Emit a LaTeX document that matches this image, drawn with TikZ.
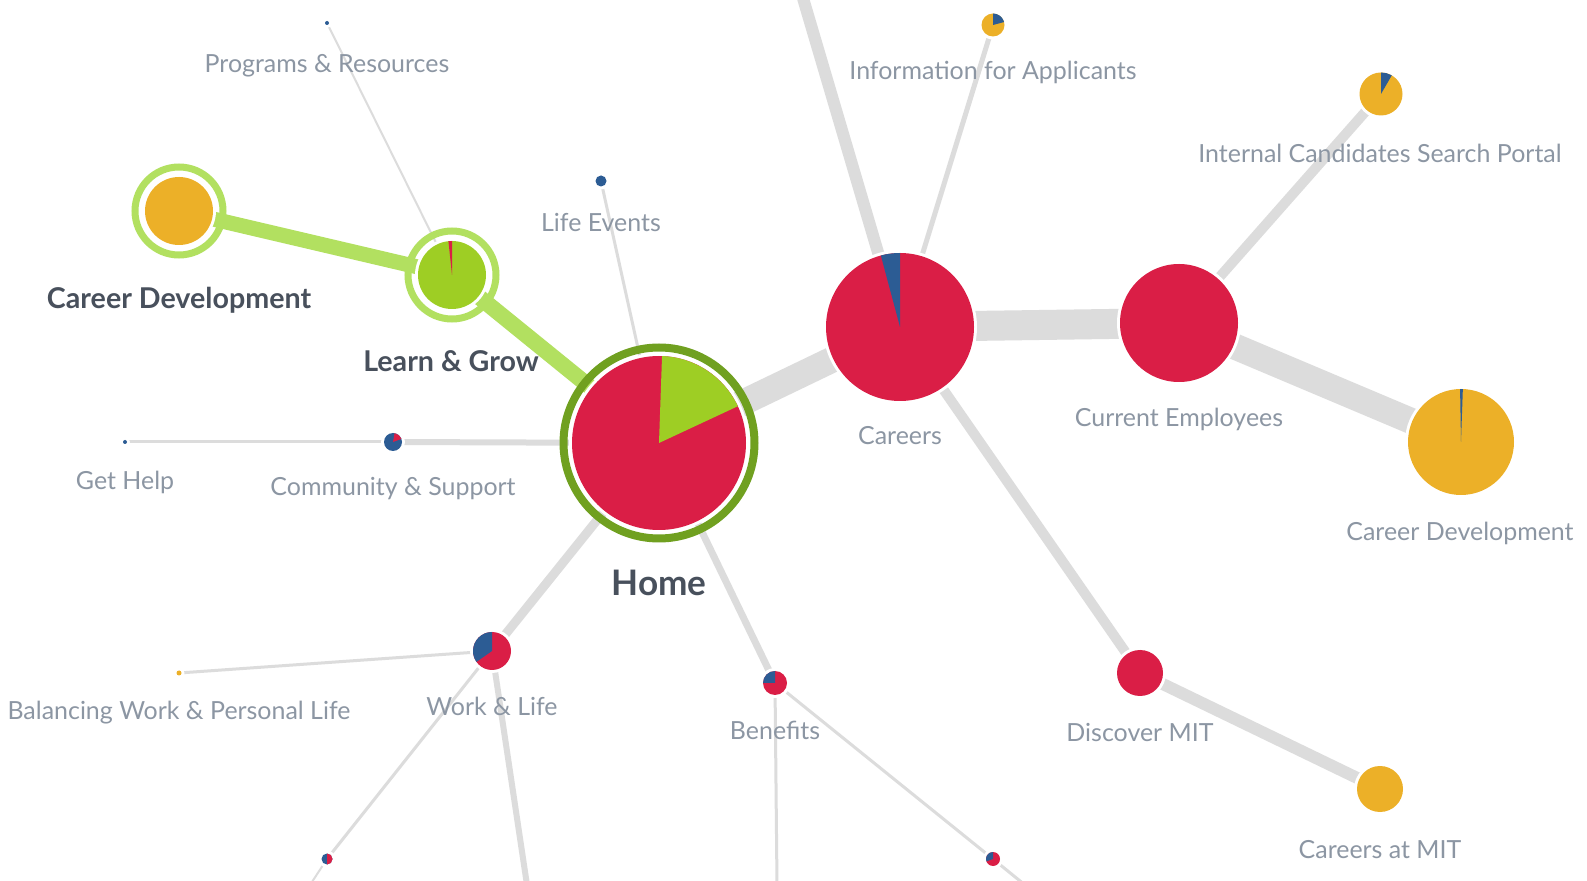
\documentclass[tikz,border=0pt]{standalone}
\usepackage{fontspec}
\setmainfont{Lato}
\usetikzlibrary{backgrounds}
\definecolor{pinkred}{RGB}{218,30,70}
\definecolor{gold}{RGB}{236,176,40}
\definecolor{navy}{RGB}{44,92,148}
\definecolor{leaf}{RGB}{158,206,36}
\definecolor{ringlight}{RGB}{178,224,96}
\definecolor{ringdark}{RGB}{112,160,32}
\definecolor{linkgray}{RGB}{220,220,220}
\definecolor{labelgray}{RGB}{140,150,163}
\definecolor{labeldark}{RGB}{72,80,92}

\tikzset{
 piebase/.style={circle, inner sep=0pt},
 link/.style={linkgray, line width=#1*0.02cm},
 greenlink/.style={ringlight, line width=#1*0.02cm},
 lbl/.style={labelgray, font=\fontsize{14.2}{16}\selectfont, anchor=base},
 biglbl/.style={labeldark, font=\fontsize{16.3}{18}\selectfont\bfseries, anchor=base},
}

% name, position, radius, base colour, slice colour, slice from, slice to
\newcommand{\pienode}[7]{%
  \node[piebase, minimum size=#3*0.04cm] (#1) at (#2) {};
  \fill[white] (#1.center) circle[radius=#3+3];
  \fill[#4] (#1.center) circle[radius=#3];
  \fill[#5] (#1.center) -- ++(#6:#3) arc[start angle=#6, end angle=#7, radius=#3] -- cycle;
}

\begin{document}
\begin{tikzpicture}[x=0.02cm, y=0.02cm]
\useasboundingbox (0,0) rectangle (1587,880);

% pies
\pienode{home}{659,437}{87}{pinkred}{leaf}{25}{88}
\draw[ringdark, line width=0.16cm] (home.center) circle[radius=95.5];
\pienode{careers}{900,553}{74}{pinkred}{navy}{90}{105}
\pienode{current}{1179,557}{59}{pinkred}{pinkred}{90}{90}
\pienode{cdright}{1461,438}{53}{gold}{navy}{88}{91}
\pienode{internal}{1381,786}{21.5}{gold}{navy}{60}{90}
\pienode{info}{993,855}{11.5}{gold}{navy}{15}{90}
\pienode{discover}{1140,207}{23}{pinkred}{pinkred}{90}{90}
\pienode{careersmit}{1380,91}{23}{gold}{gold}{90}{90}
\pienode{learn}{452,605}{34}{leaf}{pinkred}{90}{96}
\draw[ringlight, line width=0.14cm] (learn.center) circle[radius=44];
\pienode{cdleft}{179,669}{34}{gold}{gold}{90}{90}
\draw[ringlight, line width=0.14cm] (cdleft.center) circle[radius=44];
\pienode{community}{393,438}{9}{navy}{pinkred}{20}{80}
\pienode{gethelp}{125,438}{2}{navy}{navy}{90}{90}
\pienode{programs}{327,857}{2}{navy}{navy}{90}{90}
\pienode{lifeevents}{601,699}{5.5}{navy}{navy}{90}{90}
\pienode{worklife}{492,229}{19}{pinkred}{navy}{90}{215}
\pienode{balancing}{179,207}{2.5}{gold}{gold}{90}{90}
\pienode{benefits}{775,197}{12}{pinkred}{navy}{90}{180}
\pienode{bldot}{327,21}{5.5}{navy}{pinkred}{-90}{90}
\pienode{brdot}{993,21}{7}{pinkred}{navy}{90}{200}

\coordinate (careerstop) at (800,892);
\coordinate (worklifedown) at (527,-5);
\coordinate (benefitsdown) at (777,-5);
\coordinate (brdotoff) at (1025,-5);
\coordinate (bldotoff) at (310,-5);

% links behind the pies
\begin{scope}[on background layer]
\fill[white] (0,0) rectangle (1587,880);
\draw[link=12] (careers) -- (careerstop);
\draw[link=5] (careers) -- (info);
\draw[link=26] (home) -- (careers);
\draw[link=30] (careers) -- (current);
\draw[link=10] (current) -- (internal);
\draw[link=26] (current) -- (cdright);
\draw[link=10] (careers) -- (discover);
\draw[link=12] (discover) -- (careersmit);
\draw[greenlink=16] (home) -- (learn);
\draw[greenlink=15] (learn) -- (cdleft);
\draw[link=2] (learn) -- (programs);
\draw[link=3] (home) -- (lifeevents);
\draw[link=6] (home) -- (community);
\draw[link=3] (community) -- (gethelp);
\draw[link=9] (home) -- (worklife);
\draw[link=3] (worklife) -- (balancing);
\draw[link=3] (worklife) -- (bldot);
\draw[link=2] (bldot) -- (bldotoff);
\draw[link=6] (worklife) -- (worklifedown);
\draw[link=7] (home) -- (benefits);
\draw[link=3] (benefits) -- (benefitsdown);
\draw[link=3] (benefits) -- (brdot);
\draw[link=3] (brdot) -- (brdotoff);
\end{scope}

% labels
\node[lbl] (programslbl) at (327,807) {Programs \& Resources};
\node[lbl] (infolbl) at (993,800) {Information for Applicants};
\node[lbl] (internallbl) at (1380,717) {Internal Candidates Search Portal};
\node[lbl] (lifeeventslbl) at (601,648) {Life Events};
\node[biglbl] (cdleftlbl) at (179,571) {Career Development};
\node[biglbl] (learnlbl) at (451,508) {Learn \& Grow};
\node[lbl] (careerslbl) at (900,435) {Careers};
\node[lbl] (currentlbl) at (1179,453) {Current Employees};
\node[lbl] (cdrightlbl) at (1460,339) {Career Development};
\node[lbl] (gethelplbl) at (125,390) {Get Help};
\node[lbl] (communitylbl) at (393,384) {Community \& Support};
\node[biglbl, font=\fontsize{20}{22}\selectfont\bfseries] (homelbl) at (659,284) {Home};
\node[lbl] (balancinglbl) at (179,160) {Balancing Work \& Personal Life};
\node[lbl] (worklifelbl) at (492,165) {Work \& Life};
\node[lbl] (benefitslbl) at (775,140) {Benefits};
\node[lbl] (discoverlbl) at (1140,138) {Discover MIT};
\node[lbl] (careersmitlbl) at (1380,22) {Careers at MIT};
\end{tikzpicture}
\end{document}
